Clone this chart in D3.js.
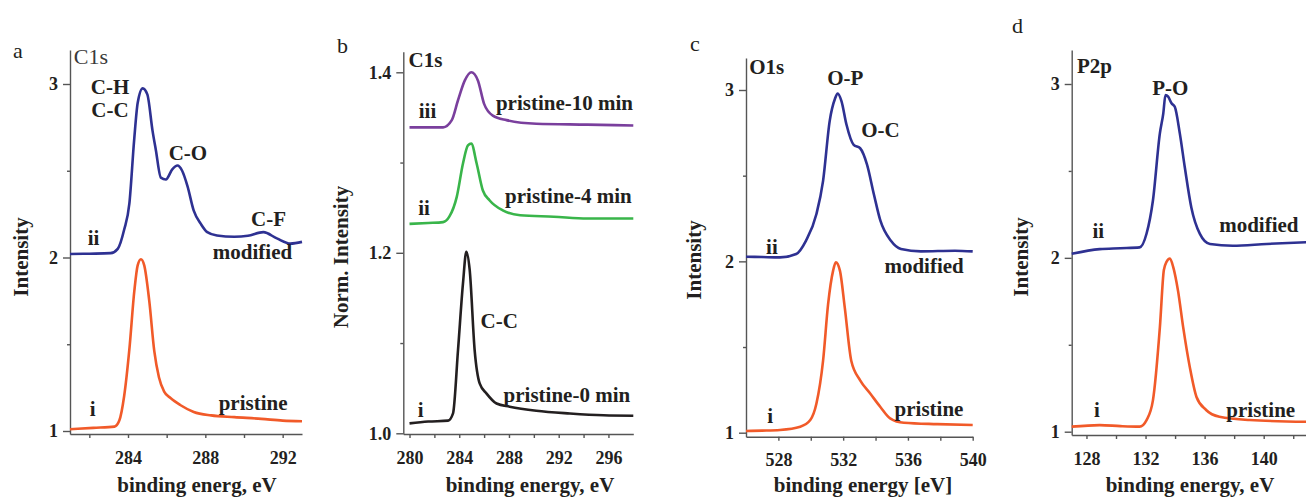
<!DOCTYPE html>
<html>
<head>
<meta charset="utf-8">
<script src="https://cdn.jsdelivr.net/npm/d3@7"></script>
<style>
  body { margin: 0; background: #fff; }
</style>
</head>
<body>
<script>
// --- data: [binding energy (eV), intensity] ---
const c1sModified = [
  [281.0, 2.02], [282.0, 2.022], [283.1, 2.025], [283.47, 2.05], [283.8, 2.16], [284.07, 2.31],
  [284.32, 2.68], [284.5, 2.89], [284.76, 2.975], [285.0, 2.94], [285.27, 2.73], [285.44, 2.62],
  [285.7, 2.46], [285.96, 2.45], [286.3, 2.51], [286.56, 2.53], [286.8, 2.50], [287.08, 2.41],
  [287.4, 2.27], [287.76, 2.195], [288.1, 2.146], [288.6, 2.127], [289.5, 2.12], [290.2, 2.125],
  [291.0, 2.146], [291.7, 2.11], [292.4, 2.08], [293.0, 2.09]
];
const c1sPristine = [
  [281.0, 1.01], [282.2, 1.018], [283.3, 1.025], [283.55, 1.06], [283.8, 1.20], [284.07, 1.47],
  [284.33, 1.81], [284.5, 1.955], [284.67, 1.99], [284.84, 1.955], [285.1, 1.75], [285.36, 1.46],
  [285.6, 1.31], [285.87, 1.227], [286.2, 1.19], [286.7, 1.15], [287.4, 1.11], [288.3, 1.09],
  [289.5, 1.08], [290.9, 1.07], [292.0, 1.06], [293.0, 1.056]
];
const c1s0min = [
  [280.0, 1.011], [281.5, 1.013], [283.1, 1.014], [283.5, 1.022], [283.9, 1.092], [284.3, 1.166],
  [284.57, 1.201], [284.84, 1.181], [285.24, 1.092], [285.65, 1.055], [286.2, 1.044], [287.0, 1.033],
  [288.06, 1.0295], [290.2, 1.025], [292.9, 1.022], [295.6, 1.020], [298.0, 1.0195]
];
const c1s4min = [
  [280.0, 1.232], [281.5, 1.233], [282.7, 1.234], [283.2, 1.240], [283.8, 1.262], [284.3, 1.299],
  [284.7, 1.319], [284.97, 1.321], [285.4, 1.299], [285.9, 1.269], [286.45, 1.258], [287.5, 1.247],
  [288.9, 1.2416], [291.6, 1.240], [294.3, 1.238], [298.0, 1.238]
];
const c1s10min = [
  [280.0, 1.339], [281.5, 1.339], [282.7, 1.339], [283.4, 1.347], [283.9, 1.369], [284.45, 1.391],
  [284.97, 1.400], [285.5, 1.391], [286.0, 1.365], [286.7, 1.352], [287.8, 1.347], [290.2, 1.343],
  [294.3, 1.342], [298.0, 1.341]
];
const o1sModified = [
  [526.0, 2.027], [527.0, 2.025], [528.1, 2.023], [529.1, 2.043], [529.7, 2.12], [530.35, 2.276],
  [530.76, 2.47], [531.17, 2.82], [531.5, 2.95], [531.66, 2.98], [531.9, 2.934], [532.2, 2.80],
  [532.65, 2.68], [533.05, 2.66], [533.47, 2.566], [533.9, 2.39], [534.3, 2.237], [534.95, 2.12],
  [535.57, 2.072], [536.8, 2.058], [538.9, 2.062], [540.0, 2.058]
];
const o1sPristine = [
  [526.0, 1.01], [527.0, 1.012], [528.1, 1.016], [529.35, 1.035], [529.97, 1.074], [530.35, 1.17],
  [530.76, 1.42], [531.07, 1.75], [531.38, 1.946], [531.55, 1.994], [531.8, 1.946], [532.1, 1.73],
  [532.5, 1.42], [533.05, 1.306], [533.67, 1.229], [534.3, 1.15], [534.9, 1.084], [535.75, 1.058],
  [537.8, 1.05], [540.0, 1.045]
];
const p2pModified = [
  [127.0, 2.023], [128.9, 2.05], [130.3, 2.055], [131.6, 2.06], [132.07, 2.14], [132.5, 2.33],
  [132.97, 2.716], [133.2, 2.83], [133.35, 2.936], [133.53, 2.927], [133.76, 2.889], [133.98, 2.869],
  [134.32, 2.716], [134.66, 2.52], [135.1, 2.29], [135.68, 2.138], [136.36, 2.08], [137.9, 2.07],
  [140.2, 2.08], [143.0, 2.09]
];
const p2pPristine = [
  [127.0, 1.029], [128.9, 1.038], [130.3, 1.032], [131.6, 1.029], [132.07, 1.067], [132.5, 1.18],
  [132.97, 1.60], [133.24, 1.93], [133.42, 1.977], [133.65, 1.996], [133.87, 1.948], [134.2, 1.81],
  [134.55, 1.60], [135.0, 1.37], [135.45, 1.20], [136.1, 1.125], [137.0, 1.086], [139.05, 1.067],
  [143.0, 1.057]
];

const yTicksInt = [1, 2, 3];
const yMinorInt = [1.5, 2.5];
const yTicksNorm = [1.0, 1.2, 1.4];
const yMinorNorm = [1.1, 1.3];

const blue = "#2e3192", orange = "#f15a29", green = "#39b54a", purple = "#7a3f9d", black = "#231f20";
const serif = '"Liberation Serif", "Times New Roman", serif';

const panels = [
  {
    letter: "a", letterPos: [13, 58],
    xDomain: [281, 293], xRange: [70, 302],
    yCal: [[1, 431], [3, 84]], yTop: 50, yBottom: 434,
    xTicks: [284, 288, 292], xMinor: [282, 286, 290],
    yTicks: yTicksInt, yMinor: yMinorInt, yFmt: d3.format("d"),
    yTitle: "Intensity", yTitlePos: [28, 257],
    xTitle: "binding energ, eV", xTitleX: 197,
    series: [[c1sModified, blue], [c1sPristine, orange]],
    labels: [
      ["C1s", 281.2, 3.115, "start", false],
      ["C-H", 283.07, 2.94, "middle", true],
      ["C-C", 283.07, 2.81, "middle", true],
      ["C-O", 287.1, 2.56, "middle", true],
      ["C-F", 291.27, 2.18, "middle", true],
      ["modified", 290.44, 1.994, "middle", true],
      ["ii", 282.22, 2.07, "middle", true],
      ["pristine", 290.47, 1.12, "middle", true],
      ["i", 282.17, 1.086, "middle", true]
    ]
  },
  {
    letter: "b", letterPos: [337, 53],
    xDomain: [279.5, 298], xRange: [403.3, 633.3],
    yCal: [[1.0, 433.3], [1.4, 72.3]], yTop: 51.7, yBottom: 434,
    xTicks: [280, 284, 288, 292, 296], xMinor: [282, 286, 290, 294],
    yTicks: yTicksNorm, yMinor: yMinorNorm, yFmt: d3.format(".1f"),
    yTitle: "Norm. Intensity", yTitlePos: [348, 257],
    xTitle: "binding energy, eV", xTitleX: 530,
    series: [[c1s0min, black], [c1s4min, green], [c1s10min, purple]],
    labels: [
      ["C1s", 279.92, 1.4059, "start", true],
      ["iii", 281.45, 1.3494, "middle", true],
      ["pristine-10 min", 292.46, 1.3582, "middle", true],
      ["ii", 281.17, 1.2419, "middle", true],
      ["pristine-4 min", 292.78, 1.2552, "middle", true],
      ["C-C", 287.22, 1.1167, "middle", true],
      ["pristine-0 min", 292.66, 1.0347, "middle", true],
      ["i", 280.89, 1.018, "middle", true]
    ]
  },
  {
    letter: "c", letterPos: [690, 51],
    xDomain: [526, 540], xRange: [746, 972.7],
    yCal: [[1, 432.7], [3, 90]], yTop: 58, yBottom: 436.7,
    xTicks: [528, 532, 536, 540], xMinor: [530, 534, 538],
    yTicks: yTicksInt, yMinor: yMinorInt, yFmt: d3.format("d"),
    yTitle: "Intensity", yTitlePos: [701, 260],
    xTitle: "binding energy [eV]", xTitleX: 863,
    series: [[o1sModified, blue], [o1sPristine, orange]],
    labels: [
      ["O1s", 526.2, 3.093, "start", true],
      ["O-P", 532.13, 3.029, "middle", true],
      ["O-C", 534.3, 2.726, "middle", true],
      ["ii", 527.6, 2.043, "middle", true],
      ["modified", 537.0, 1.932, "middle", true],
      ["pristine", 537.3, 1.097, "middle", true],
      ["i", 527.5, 1.057, "middle", true]
    ]
  },
  {
    letter: "d", letterPos: [1012, 33],
    xDomain: [127, 143], xRange: [1071.7, 1308],
    yCal: [[1, 431.7], [3, 84]], yTop: 50, yBottom: 435,
    xTicks: [128, 132, 136, 140], xMinor: [130, 134, 138, 142],
    yTicks: yTicksInt, yMinor: yMinorInt, yFmt: d3.format("d"),
    yTitle: "Intensity", yTitlePos: [1028, 257],
    xTitle: "binding energy, eV", xTitleX: 1190,
    series: [[p2pModified, blue], [p2pPristine, orange]],
    labels: [
      ["P2p", 127.36, 3.063, "start", true],
      ["P-O", 133.67, 2.937, "middle", true],
      ["ii", 128.8, 2.114, "middle", true],
      ["modified", 139.67, 2.149, "middle", true],
      ["pristine", 139.8, 1.085, "middle", true],
      ["i", 128.7, 1.085, "middle", true]
    ]
  }
];

const svg = d3.select("body").append("svg")
  .attr("width", 1306)
  .attr("height", 498)
  .style("font-family", serif);

panels.forEach(p => {
  const g = svg.append("g");

  const x = d3.scaleLinear().domain(p.xDomain).range(p.xRange);
  const y0 = d3.scaleLinear()
    .domain([p.yCal[0][0], p.yCal[1][0]])
    .range([p.yCal[0][1], p.yCal[1][1]]);
  const y = d3.scaleLinear()
    .domain([y0.invert(p.yBottom), y0.invert(p.yTop)])
    .range([p.yBottom, p.yTop]);

  // x axis
  g.append("g")
    .attr("transform", `translate(0,${p.yBottom})`)
    .call(d3.axisBottom(x).tickValues(p.xTicks).tickSize(4).tickPadding(13).tickSizeOuter(0));
  g.append("g")
    .attr("transform", `translate(0,${p.yBottom})`)
    .call(d3.axisBottom(x).tickValues(p.xMinor).tickSize(4).tickFormat("").tickSizeOuter(0))
    .select(".domain").remove();

  // y axis
  g.append("g")
    .attr("transform", `translate(${p.xRange[0]},0)`)
    .call(d3.axisLeft(y).tickValues(p.yTicks).tickFormat(p.yFmt).tickSize(7).tickPadding(5).tickSizeOuter(0));
  g.append("g")
    .attr("transform", `translate(${p.xRange[0]},0)`)
    .call(d3.axisLeft(y).tickValues(p.yMinor).tickSize(3).tickFormat("").tickSizeOuter(0))
    .select(".domain").remove();

  g.selectAll(".domain, .tick line")
    .attr("stroke", "#555")
    .attr("stroke-width", 1.4);
  g.selectAll(".tick text")
    .attr("fill", black)
    .style("font-family", serif)
    .style("font-size", "18px")
    .style("font-weight", "bold");

  // spectra
  const line = d3.line()
    .x(d => x(d[0]))
    .y(d => y(d[1]))
    .curve(d3.curveMonotoneX);

  p.series.forEach(([data, color]) => {
    g.append("path")
      .datum(data)
      .attr("fill", "none")
      .attr("stroke", color)
      .attr("stroke-width", 2.6)
      .attr("stroke-linejoin", "round")
      .attr("d", line);
  });

  // annotations
  p.labels.forEach(([t, lx, ly, anchor, bold]) => {
    g.append("text")
      .attr("x", x(lx))
      .attr("y", y(ly))
      .attr("text-anchor", anchor)
      .attr("fill", bold ? black : "#3a3a3a")
      .style("font-size", bold ? "21px" : "22px")
      .style("font-weight", bold ? "bold" : "normal")
      .text(t);
  });

  // panel letter
  g.append("text")
    .attr("x", p.letterPos[0])
    .attr("y", p.letterPos[1])
    .attr("fill", black)
    .style("font-size", "22px")
    .text(p.letter);

  // axis titles
  g.append("text")
    .attr("text-anchor", "middle")
    .attr("transform", `translate(${p.yTitlePos[0]},${p.yTitlePos[1]}) rotate(-90)`)
    .attr("fill", black)
    .style("font-size", "21px")
    .style("font-weight", "bold")
    .text(p.yTitle);

  g.append("text")
    .attr("text-anchor", "middle")
    .attr("x", p.xTitleX)
    .attr("y", 492)
    .attr("fill", black)
    .style("font-size", "21px")
    .style("font-weight", "bold")
    .text(p.xTitle);
});
</script>
</body>
</html>
